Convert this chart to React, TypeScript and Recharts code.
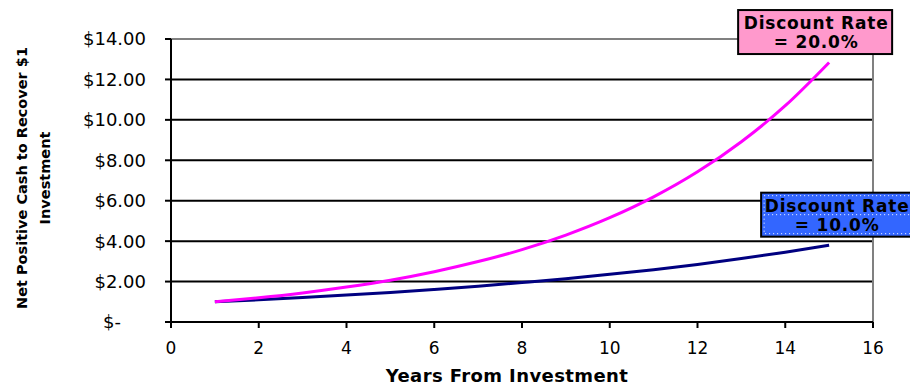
import { LineChart, Line, XAxis, YAxis, CartesianGrid, ReferenceLine } from "recharts";

const years = [1, 2, 3, 4, 5, 6, 7, 8, 9, 10, 11, 12, 13, 14, 15];
const rate20 = [1.0, 1.2, 1.44, 1.73, 2.07, 2.49, 2.99, 3.58, 4.3, 5.16, 6.19, 7.43, 8.92, 10.7, 12.84];
const rate10 = [1.0, 1.1, 1.21, 1.33, 1.46, 1.61, 1.77, 1.95, 2.14, 2.36, 2.59, 2.85, 3.14, 3.45, 3.8];
const xTicks = [0, 2, 4, 6, 8, 10, 12, 14, 16];
const yTicks = [0, 2, 4, 6, 8, 10, 12, 14];
const gridValues = [2, 4, 6, 8, 10, 12];

const data = years.map((y, i) => ({ year: y, r20: rate20[i], r10: rate10[i] }));

const font = "'DejaVu Sans', sans-serif";

function YTick(props: any) {
  const { x, y, payload } = props;
  const v = payload.value;
  const label = v === 0 ? "$-" : "$" + v.toFixed(2);
  return (
    <text x={v === 0 ? x - 25 : x} y={y} dy="0.36em" textAnchor="end" fontFamily={font} fontSize={18} fill="#000">
      {label}
    </text>
  );
}

// box label drawn next to the last point of a series
function boxLabel(
  title: string,
  rate: string,
  fill: string,
  box: { dx: number; dy: number; w: number; tx: number; dotted?: boolean }
) {
  return (props: any) => {
    const { x, y, index } = props;
    if (index !== years.length - 1) return <g />;
    const left = x + box.dx;
    const top = y + box.dy;
    const txt = { textAnchor: "middle" as const, fontFamily: font, fontWeight: "bold", fontSize: 17, letterSpacing: 0.8, fill: "#000" };
    return (
      <g>
        <rect x={left} y={top} width={box.w} height={44} fill={fill} stroke="#000" strokeWidth={2} />
        {box.dotted && (
          <g stroke="#fff" strokeWidth={1} strokeDasharray="1 3" fill="none">
            <rect x={left + 3} y={top + 3} width={box.w - 6} height={38} />
            <line x1={left + 3} x2={left + box.w - 3} y1={top + 22} y2={top + 22} />
          </g>
        )}
        <text x={x + box.tx} y={top + 19} {...txt}>
          {title}
        </text>
        <text x={x + box.tx} y={top + 38} {...txt}>
          {rate}
        </text>
      </g>
    );
  };
}

export default function App() {
  return (
    <div style={{ position: "absolute", left: 0, top: 0, background: "#fff" }}>
      <LineChart width={910} height={385} data={data} margin={{ top: 39, right: 37, bottom: 0, left: 0 }}>
        <CartesianGrid vertical={false} horizontalValues={gridValues} stroke="#000" strokeWidth={2} />
        <ReferenceLine y={14} stroke="#808080" strokeWidth={2} />
        <ReferenceLine x={16} stroke="#808080" strokeWidth={2} />
        <XAxis
          dataKey="year"
          type="number"
          domain={[0, 16]}
          ticks={xTicks}
          height={63}
          axisLine={{ stroke: "#000", strokeWidth: 2 }}
          tickLine={{ stroke: "#000", strokeWidth: 2 }}
          tickSize={6}
          tickMargin={14}
          tick={{ fill: "#000", fontSize: 17, fontFamily: font }}
          label={{
            content: () => (
              <text x={507} y={382} textAnchor="middle" fontFamily={font} fontWeight="bold" fontSize={18} letterSpacing={0.4} fill="#000">
                Years From Investment
              </text>
            ),
          }}
        />
        <YAxis
          type="number"
          domain={[0, 14]}
          ticks={yTicks}
          width={171}
          axisLine={{ stroke: "#000", strokeWidth: 2 }}
          tickLine={{ stroke: "#000", strokeWidth: 2 }}
          tickSize={6}
          tickMargin={19}
          tick={<YTick />}
          label={{
            content: () => (
              <text transform="translate(0,178) rotate(-90)" textAnchor="middle" fontFamily={font} fontWeight="bold" fontSize={14.5} fill="#000">
                <tspan x={0} y={27}>Net Positive Cash to Recover $1</tspan>
                <tspan x={0} y={50}>Investment</tspan>
              </text>
            ),
          }}
        />
        <Line
          dataKey="r10"
          type="monotone"
          stroke="#000080"
          strokeWidth={3}
          dot={false}
          isAnimationActive={false}
          label={boxLabel("Discount Rate", "= 10.0%", "#3366ff", { dx: -68, dy: -52.5, w: 162, tx: 8, dotted: true })}
        />
        <Line
          dataKey="r20"
          type="monotone"
          stroke="#ff00ff"
          strokeWidth={3}
          dot={false}
          isAnimationActive={false}
          label={boxLabel("Discount Rate", "= 20.0%", "#ff99cc", { dx: -91, dy: -52.4, w: 154, tx: -13 })}
        />
      </LineChart>
    </div>
  );
}
